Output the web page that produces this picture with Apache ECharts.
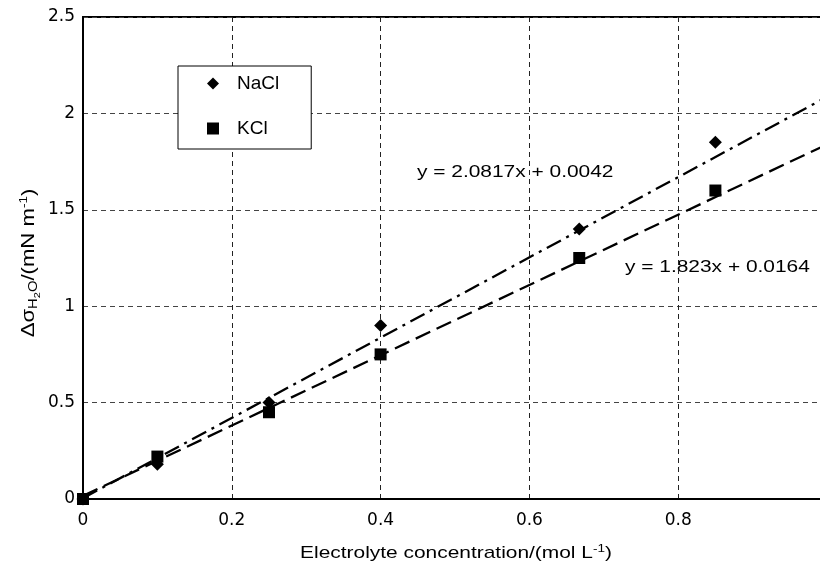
<!DOCTYPE html>
<html>
<head>
<meta charset="utf-8">
<script src="https://cdn.jsdelivr.net/npm/echarts@6/dist/echarts.min.js"></script>
<style>
html,body{margin:0;padding:0;background:#fff;}
#chart{width:820px;height:570px;}
</style>
</head>
<body>
<div id="chart"></div>
<script>
// ---- data ----
var concentration = [0, 0.1, 0.25, 0.4, 0.667, 0.85];
var naclValues = [0, 0.18, 0.5, 0.9, 1.4, 1.85];
var kclValues = [0, 0.22, 0.45, 0.75, 1.25, 1.6];
// fitted trend lines (end points of the drawn fits)
var fitX = [0, 1];
var naclFitY = [0.0042, 2.0859];
var kclFitY = [0.0164, 1.8394];
var naclEquation = 'y = 2.0817x + 0.0042';
var kclEquation = 'y = 1.823x + 0.0164';
var xTicks = [0, 0.2, 0.4, 0.6, 0.8];
var yTicks = [0, 0.5, 1, 1.5, 2, 2.5];
var xTitle = 'Electrolyte concentration/(mol L{p|-1})';
var yTitle = '{n|Δσ}{s|H}{ss|2}{s|O}{n|/(mN m}{p|-1}{n|)}';

function pairs(xs, ys) { return xs.map(function (x, i) { return [x, ys[i]]; }); }

var FONT = '"Liberation Sans", Arial, Helvetica, sans-serif';
var TICKFONT = '"DejaVu Sans", "Liberation Sans", sans-serif';
var SX = 1.23;
var chart = echarts.init(document.getElementById('chart'), null, {renderer: 'canvas'});

chart.setOption({
  animation: false,
  backgroundColor: '#fff',
  textStyle: {fontFamily: FONT, color: '#000'},
  grid: {left: 83, top: 17, width: 744, height: 482, outerBoundsMode: 'none', containLabel: false,
    show: true, borderColor: '#000', borderWidth: 1.8, backgroundColor: 'transparent'},
  legend: {
    left: 178, top: 66, orient: 'vertical',
    backgroundColor: '#fff', borderColor: '#000', borderWidth: 1,
    padding: [8, 32, 11, 29], itemGap: 26, itemWidth: 12, itemHeight: 12,
    textStyle: {fontSize: 19, color: '#000', fontFamily: FONT, padding: [0, 0, 0, 13]},
    data: [{name: 'NaCl', icon: 'diamond'}, {name: 'KCl', icon: 'rect'}]
  },
  xAxis: {
    type: 'value', min: 0, max: 1, interval: 0.2,
    axisLine: {show: true, lineStyle: {color: '#000', width: 2}},
    axisTick: {show: false},
    axisLabel: {fontSize: 17, color: '#000', margin: 13, fontFamily: TICKFONT,
      formatter: function (v) { var r = Math.round(v * 10) / 10; return xTicks.indexOf(r) >= 0 ? String(r) : ''; }},
    splitLine: {show: true, lineStyle: {color: '#222', type: [5, 4], width: 1}}
  },
  yAxis: {
    type: 'value', min: 0, max: 2.5, interval: 0.5,
    axisLine: {show: true, lineStyle: {color: '#000', width: 2}},
    axisTick: {show: false},
    axisLabel: {fontSize: 17, color: '#000', margin: 8, fontFamily: TICKFONT,
      formatter: function (v) { var r = Math.round(v * 10) / 10; return yTicks.indexOf(r) >= 0 ? String(r) : ''; }},
    splitLine: {show: true, lineStyle: {color: '#444', type: [5, 4], width: 1}}
  },
  graphic: [
    {type: 'text', left: 417, top: 164, scaleX: SX, style: {text: naclEquation, font: '17px ' + FONT, fill: '#000'}},
    {type: 'text', left: 625, top: 259, scaleX: SX, style: {text: kclEquation, font: '17px ' + FONT, fill: '#000'}},
    {type: 'text', x: 456, y: 553, scaleX: SX,
      style: {text: xTitle, font: '17px ' + FONT, fill: '#000', align: 'center', verticalAlign: 'middle',
        rich: {p: {fontSize: 11, padding: [0, 0, 9, 0], fontFamily: FONT, fill: '#000'}}}},
    {type: 'text', x: 29, y: 263, rotation: Math.PI / 2, scaleX: SX,
      style: {text: yTitle, font: '18px ' + FONT, fill: '#000', align: 'center', verticalAlign: 'middle',
        rich: {
          n: {fontSize: 18, fontFamily: FONT, fill: '#000'},
          s: {fontSize: 12, padding: [10, 0, 0, 0], fontFamily: FONT, fill: '#000'},
          ss: {fontSize: 9, padding: [17, 0, 0, 0], fontFamily: FONT, fill: '#000'},
          p: {fontSize: 11, padding: [0, 0, 11, 0], fontFamily: FONT, fill: '#000'}
        }}}
  ],
  series: [
    {name: 'NaCl fit', type: 'line', data: pairs(fitX, naclFitY), showSymbol: false, symbol: 'none',
      lineStyle: {color: '#000', width: 2.3, type: [16, 6, 3, 6]}, z: 3},
    {name: 'KCl fit', type: 'line', data: pairs(fitX, kclFitY), showSymbol: false, symbol: 'none',
      lineStyle: {color: '#000', width: 2.3, type: [16, 7]}, z: 3},
    {name: 'NaCl', type: 'scatter', data: pairs(concentration, naclValues), symbol: 'diamond', symbolSize: 13,
      itemStyle: {color: '#000', opacity: 1}, z: 5},
    {name: 'KCl', type: 'scatter', data: pairs(concentration, kclValues), symbol: 'rect', symbolSize: 12,
      itemStyle: {color: '#000', opacity: 1}, z: 6}
  ]
});
</script>
</body>
</html>
